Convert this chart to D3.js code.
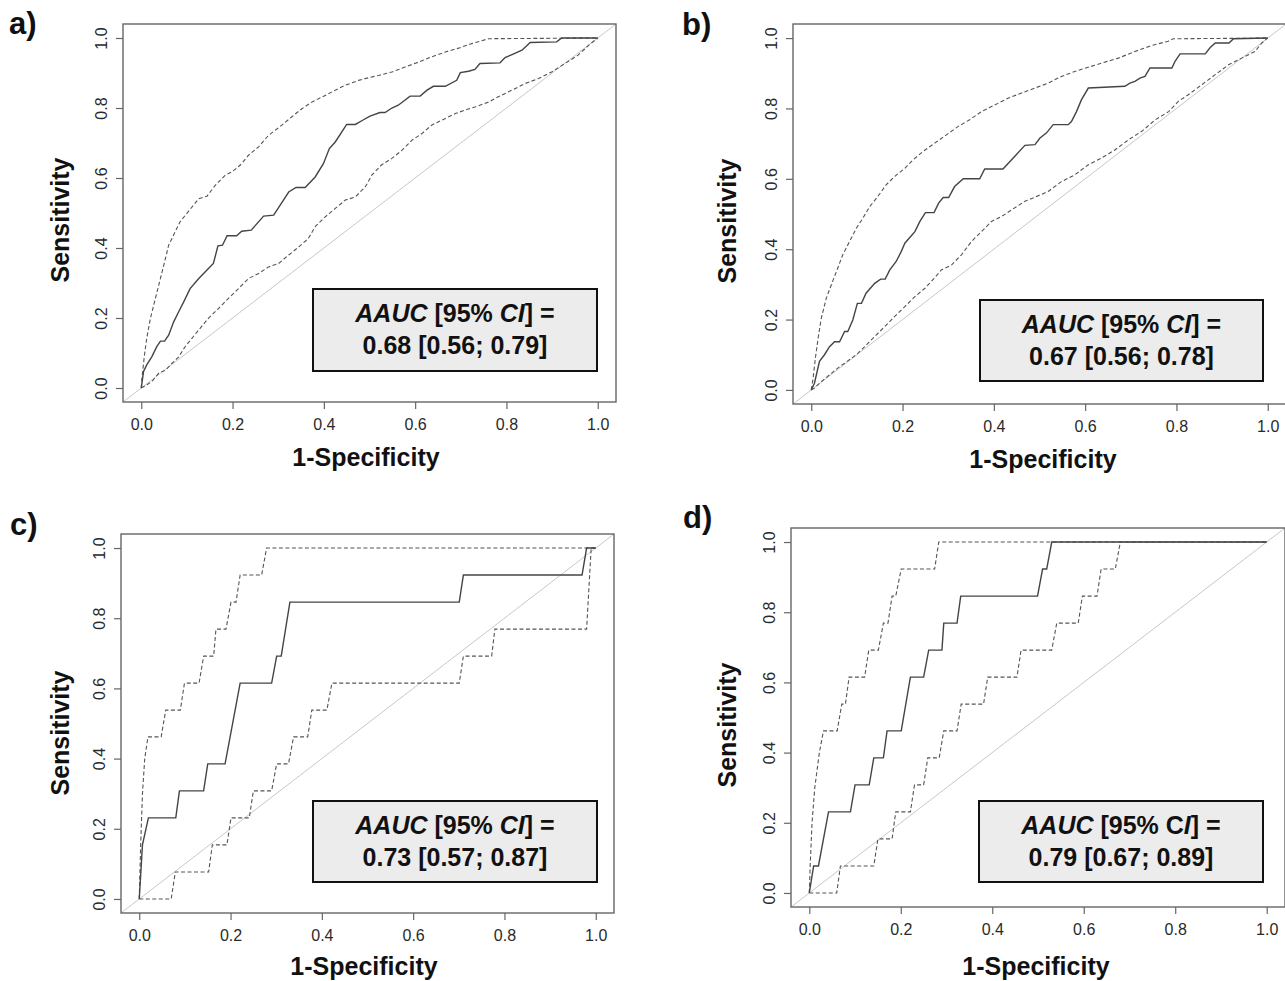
<!DOCTYPE html>
<html>
<head>
<meta charset="utf-8">
<script src="https://cdn.jsdelivr.net/npm/d3@7"></script>
<style>
  body { margin: 0; background: #fff; }
  text { font-family: "Liberation Sans", Arial, Helvetica, sans-serif; }
</style>
</head>
<body>
<svg id="chart" width="1285" height="981"></svg>
<script>
// ---- data ----
var tickValues = [0, 0.2, 0.4, 0.6, 0.8, 1.0];
var panelLetters = ["a)", "b)", "c)", "d)"];
var aucValues = ["0.68 [0.56; 0.79]", "0.67 [0.56; 0.78]", "0.73 [0.57; 0.87]", "0.79 [0.67; 0.89]"];

// [1-specificity, sensitivity]
var rocA = [[0,0],[0.005,0.047],[0.012,0.066],[0.023,0.089],[0.034,0.118],[0.042,0.134],[0.051,0.134],[0.06,0.151],[0.071,0.189],[0.082,0.218],[0.093,0.246],[0.107,0.284],[0.126,0.313],[0.144,0.337],[0.158,0.356],[0.168,0.406],[0.178,0.408],[0.188,0.435],[0.209,0.435],[0.22,0.448],[0.241,0.451],[0.268,0.491],[0.29,0.494],[0.304,0.522],[0.323,0.56],[0.339,0.573],[0.359,0.573],[0.381,0.603],[0.399,0.641],[0.412,0.684],[0.425,0.703],[0.45,0.753],[0.469,0.753],[0.485,0.765],[0.501,0.777],[0.523,0.787],[0.534,0.787],[0.549,0.8],[0.563,0.808],[0.589,0.834],[0.611,0.834],[0.626,0.851],[0.64,0.862],[0.666,0.862],[0.691,0.879],[0.699,0.901],[0.717,0.905],[0.731,0.91],[0.742,0.927],[0.786,0.929],[0.797,0.944],[0.811,0.952],[0.834,0.965],[0.852,0.987],[0.91,0.989],[0.921,1],[1,1]];
var ciUpA = [[0,0],[0.0015,0.028],[0.007,0.094],[0.012,0.142],[0.02,0.199],[0.031,0.256],[0.042,0.313],[0.053,0.37],[0.06,0.408],[0.085,0.475],[0.126,0.541],[0.144,0.548],[0.162,0.579],[0.184,0.608],[0.199,0.618],[0.217,0.637],[0.235,0.665],[0.257,0.689],[0.279,0.722],[0.308,0.751],[0.33,0.775],[0.352,0.798],[0.374,0.817],[0.403,0.836],[0.425,0.851],[0.447,0.865],[0.476,0.879],[0.49,0.884],[0.52,0.893],[0.549,0.903],[0.578,0.917],[0.607,0.931],[0.636,0.946],[0.666,0.96],[0.695,0.971],[0.724,0.984],[0.761,0.998],[1,1]];
var ciLoA = [[0,0],[0.009,0.007],[0.023,0.018],[0.038,0.042],[0.053,0.051],[0.067,0.07],[0.082,0.089],[0.096,0.118],[0.111,0.142],[0.126,0.166],[0.147,0.199],[0.169,0.227],[0.191,0.256],[0.213,0.284],[0.235,0.313],[0.257,0.327],[0.279,0.346],[0.301,0.356],[0.323,0.38],[0.345,0.403],[0.366,0.427],[0.381,0.461],[0.403,0.489],[0.425,0.513],[0.447,0.537],[0.469,0.546],[0.491,0.575],[0.505,0.608],[0.526,0.637],[0.549,0.656],[0.571,0.679],[0.593,0.708],[0.615,0.727],[0.636,0.751],[0.658,0.765],[0.688,0.784],[0.709,0.794],[0.731,0.803],[0.761,0.817],[0.782,0.832],[0.812,0.851],[0.841,0.87],[0.87,0.884],[0.899,0.903],[0.928,0.927],[0.957,0.951],[0.98,0.979],[1,1]];

var rocB = [[0,0],[0.007,0.019],[0.018,0.081],[0.029,0.1],[0.04,0.123],[0.051,0.137],[0.062,0.137],[0.073,0.166],[0.08,0.166],[0.091,0.199],[0.101,0.246],[0.11,0.246],[0.12,0.275],[0.139,0.303],[0.152,0.315],[0.162,0.315],[0.172,0.341],[0.186,0.365],[0.197,0.393],[0.205,0.417],[0.227,0.45],[0.238,0.479],[0.25,0.504],[0.269,0.504],[0.279,0.531],[0.289,0.547],[0.301,0.547],[0.314,0.578],[0.333,0.6],[0.369,0.6],[0.38,0.628],[0.42,0.628],[0.446,0.664],[0.468,0.695],[0.49,0.697],[0.501,0.716],[0.515,0.73],[0.53,0.754],[0.563,0.754],[0.57,0.763],[0.581,0.791],[0.592,0.825],[0.607,0.858],[0.687,0.863],[0.698,0.872],[0.709,0.877],[0.72,0.886],[0.731,0.891],[0.742,0.915],[0.79,0.915],[0.797,0.934],[0.808,0.955],[0.863,0.955],[0.874,0.973],[0.885,0.986],[0.915,0.986],[0.925,0.998],[1,1]];
var ciUpB = [[0,0],[0.004,0.033],[0.009,0.09],[0.015,0.147],[0.022,0.204],[0.033,0.261],[0.044,0.299],[0.055,0.336],[0.069,0.384],[0.084,0.422],[0.099,0.46],[0.113,0.488],[0.128,0.521],[0.146,0.55],[0.164,0.583],[0.183,0.607],[0.205,0.63],[0.223,0.654],[0.245,0.678],[0.27,0.701],[0.296,0.725],[0.322,0.749],[0.347,0.768],[0.373,0.791],[0.402,0.81],[0.431,0.829],[0.461,0.844],[0.49,0.858],[0.519,0.872],[0.548,0.891],[0.577,0.905],[0.607,0.917],[0.636,0.929],[0.673,0.943],[0.709,0.962],[0.746,0.979],[0.782,0.991],[0.793,0.998],[1,1]];
var ciLoB = [[0,0],[0.007,0.005],[0.018,0.019],[0.029,0.031],[0.044,0.047],[0.058,0.062],[0.073,0.076],[0.088,0.09],[0.102,0.104],[0.117,0.123],[0.139,0.152],[0.161,0.18],[0.183,0.209],[0.205,0.237],[0.227,0.265],[0.249,0.289],[0.27,0.318],[0.285,0.341],[0.307,0.355],[0.329,0.384],[0.351,0.422],[0.373,0.45],[0.395,0.479],[0.417,0.493],[0.439,0.512],[0.468,0.536],[0.49,0.548],[0.519,0.564],[0.548,0.592],[0.577,0.611],[0.607,0.64],[0.636,0.659],[0.665,0.682],[0.695,0.711],[0.724,0.735],[0.754,0.768],[0.783,0.791],[0.804,0.82],[0.826,0.839],[0.855,0.867],[0.885,0.896],[0.914,0.924],[0.943,0.943],[0.972,0.962],[0.987,0.986],[1,1]];

var rocC = [[0,0],[0.007,0.154],[0.02,0.231],[0.08,0.231],[0.088,0.308],[0.141,0.308],[0.15,0.385],[0.188,0.385],[0.221,0.615],[0.29,0.615],[0.301,0.692],[0.311,0.692],[0.33,0.846],[0.701,0.846],[0.71,0.923],[0.97,0.923],[0.98,1],[1,1]];
var ciUpC = [[0,0],[0.003,0.15],[0.007,0.3],[0.012,0.4],[0.019,0.462],[0.048,0.462],[0.058,0.538],[0.09,0.538],[0.099,0.615],[0.131,0.615],[0.141,0.692],[0.163,0.692],[0.168,0.769],[0.19,0.769],[0.201,0.846],[0.212,0.846],[0.221,0.923],[0.268,0.923],[0.279,1],[1,1]];
var ciLoC = [[0,0],[0.07,0],[0.079,0.077],[0.152,0.077],[0.16,0.154],[0.192,0.154],[0.201,0.231],[0.241,0.231],[0.25,0.308],[0.29,0.308],[0.301,0.385],[0.327,0.385],[0.338,0.462],[0.369,0.462],[0.378,0.538],[0.411,0.538],[0.422,0.615],[0.701,0.615],[0.71,0.692],[0.772,0.692],[0.779,0.769],[0.98,0.769],[0.99,1],[1,1]];

var rocD = [[0,0],[0.0095,0.077],[0.02,0.077],[0.042,0.231],[0.09,0.231],[0.1,0.308],[0.131,0.308],[0.141,0.385],[0.162,0.385],[0.17,0.462],[0.201,0.462],[0.221,0.615],[0.25,0.615],[0.261,0.692],[0.29,0.692],[0.294,0.769],[0.323,0.769],[0.331,0.846],[0.499,0.846],[0.51,0.923],[0.519,0.923],[0.53,1],[1,1]];
var ciUpD = [[0,0],[0.002,0.08],[0.006,0.2],[0.012,0.3],[0.022,0.4],[0.031,0.462],[0.061,0.462],[0.071,0.538],[0.079,0.538],[0.087,0.615],[0.121,0.615],[0.13,0.692],[0.151,0.692],[0.162,0.769],[0.172,0.769],[0.181,0.846],[0.189,0.846],[0.201,0.923],[0.274,0.923],[0.283,1],[1,1]];
var ciLoD = [[0,0],[0.06,0],[0.068,0.077],[0.141,0.077],[0.15,0.154],[0.181,0.154],[0.189,0.231],[0.221,0.231],[0.23,0.308],[0.25,0.308],[0.259,0.385],[0.284,0.385],[0.294,0.462],[0.323,0.462],[0.332,0.538],[0.381,0.538],[0.39,0.615],[0.454,0.615],[0.463,0.692],[0.53,0.692],[0.541,0.769],[0.588,0.769],[0.597,0.846],[0.629,0.846],[0.638,0.923],[0.669,0.923],[0.68,1],[1,1]];

// ---- layout ----
var layout = [
  { box: [123, 24, 493, 378], leg: [313, 289, 284, 82], letter: [9, 34],   ylab: [69, 220],  xlab: [366, 466],  cUpright: false },
  { box: [793, 24, 493, 380], leg: [980, 300, 283, 81], letter: [682, 35], ylab: [736, 221], xlab: [1043, 468], cUpright: false },
  { box: [121, 534, 493, 379], leg: [313, 801, 284, 81], letter: [10, 535], ylab: [69, 733], xlab: [364, 975], cUpright: false },
  { box: [791, 528, 494, 379], leg: [979, 801, 284, 81], letter: [683, 528], ylab: [736, 725], xlab: [1036, 975], cUpright: true }
];
var curves = [[rocA, ciUpA, ciLoA], [rocB, ciUpB, ciLoB], [rocC, ciUpC, ciLoC], [rocD, ciUpD, ciLoD]];

var svg = d3.select("#chart");

function drawPanel(i) {
  var L = layout[i];
  var bx = L.box[0], by = L.box[1], bw = L.box[2], bh = L.box[3];
  var x = d3.scaleLinear().domain([-0.04, 1.04]).range([bx, bx + bw]);
  var y = d3.scaleLinear().domain([-0.04, 1.04]).range([by + bh, by]);
  var g = svg.append("g");

  // diagonal reference line
  g.append("line")
    .attr("x1", x(-0.04)).attr("y1", y(-0.04))
    .attr("x2", x(1.04)).attr("y2", y(1.04))
    .attr("stroke", "#c8c8c8").attr("stroke-width", 1);

  var line = d3.line().x(function(d) { return x(d[0]); }).y(function(d) { return y(d[1]); });
  // confidence band limits (dashed)
  [curves[i][1], curves[i][2]].forEach(function(c) {
    g.append("path").attr("d", line(c)).attr("fill", "none")
      .attr("stroke", "#555").attr("stroke-width", 1.1).attr("stroke-dasharray", "4,2.5");
  });
  // ROC curve (solid)
  g.append("path").attr("d", line(curves[i][0])).attr("fill", "none")
    .attr("stroke", "#444").attr("stroke-width", 1.4);

  // frame
  g.append("rect").attr("x", bx).attr("y", by).attr("width", bw).attr("height", bh)
    .attr("fill", "none").attr("stroke", "#666").attr("stroke-width", 1.4);

  // x axis
  var xa = g.append("g").attr("transform", "translate(0," + (by + bh) + ")")
    .call(d3.axisBottom(x).tickValues(tickValues).tickFormat(d3.format(".1f")).tickSize(7));
  xa.select(".domain").remove();
  xa.selectAll("line").attr("stroke", "#666").attr("stroke-width", 1.2);
  xa.selectAll("text").attr("y", 28).attr("dy", null)
    .attr("font-size", 16).attr("fill", "#2a2a2a")
    .style("font-family", "'Liberation Sans', Arial, sans-serif");

  // y axis, labels rotated like R's default
  var ya = g.append("g").attr("transform", "translate(" + bx + ",0)")
    .call(d3.axisLeft(y).tickValues(tickValues).tickFormat(d3.format(".1f")).tickSize(7));
  ya.select(".domain").remove();
  ya.selectAll("line").attr("stroke", "#666").attr("stroke-width", 1.2);
  ya.selectAll("text").attr("x", 0).attr("y", -16).attr("dy", null)
    .attr("transform", "rotate(-90)").attr("text-anchor", "middle")
    .attr("font-size", 16).attr("fill", "#2a2a2a")
    .style("font-family", "'Liberation Sans', Arial, sans-serif");

  // titles
  g.append("text").attr("x", L.xlab[0]).attr("y", L.xlab[1])
    .attr("text-anchor", "middle").attr("font-size", 25).attr("font-weight", "bold")
    .attr("fill", "#111").text("1-Specificity");
  g.append("text").attr("transform", "translate(" + L.ylab[0] + "," + L.ylab[1] + ") rotate(-90)")
    .attr("text-anchor", "middle").attr("font-size", 25).attr("font-weight", "bold")
    .attr("fill", "#111").text("Sensitivity");
  g.append("text").attr("x", L.letter[0]).attr("y", L.letter[1])
    .attr("font-size", 31).attr("font-weight", "bold").attr("fill", "#111").text(panelLetters[i]);

  // AAUC box
  var lx = L.leg[0], ly = L.leg[1], lw = L.leg[2], lh = L.leg[3];
  g.append("rect").attr("x", lx).attr("y", ly).attr("width", lw).attr("height", lh)
    .attr("fill", "#ececec").attr("stroke", "#111").attr("stroke-width", 2);
  var t1 = g.append("text").attr("x", lx + lw / 2).attr("y", ly + 33)
    .attr("text-anchor", "middle").attr("font-size", 25).attr("font-weight", "bold").attr("fill", "#111");
  t1.append("tspan").attr("font-style", "italic").text("AAUC");
  t1.append("tspan").text(" [95% ");
  if (L.cUpright) {
    t1.append("tspan").text("C");
    t1.append("tspan").attr("font-style", "italic").text("I");
  } else {
    t1.append("tspan").attr("font-style", "italic").text("CI");
  }
  t1.append("tspan").text("] =");
  g.append("text").attr("x", lx + lw / 2).attr("y", ly + 65)
    .attr("text-anchor", "middle").attr("font-size", 25).attr("font-weight", "bold")
    .attr("fill", "#111").text(aucValues[i]);
}

for (var i = 0; i < layout.length; i++) drawPanel(i);
</script>
</body>
</html>
